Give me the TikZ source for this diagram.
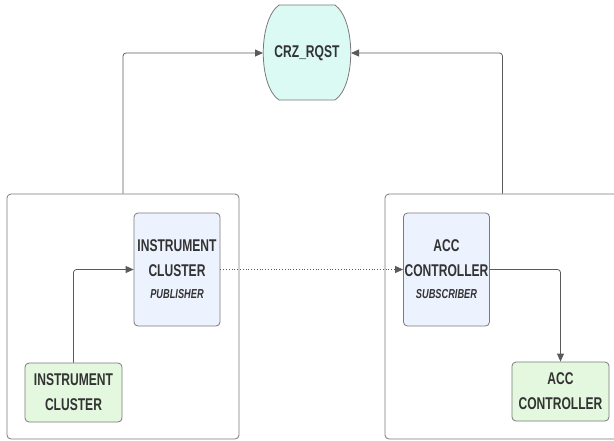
\documentclass[tikz,border=0pt]{standalone}
\usepackage{fontspec}
\setmainfont{Liberation Sans}[FakeStretch=0.71]
\usetikzlibrary{arrows.meta}
\definecolor{linec}{HTML}{5A5A5A}
\definecolor{boxline}{HTML}{7A7A7A}
\definecolor{txt}{HTML}{333333}
\definecolor{mint}{HTML}{DBFAF3}
\definecolor{paleblue}{HTML}{EDF3FE}
\definecolor{palegreen}{HTML}{E3F8DF}
\tikzset{
  container/.style={draw=boxline, line width=0.8pt, rounded corners=4pt, fill=white},
  pubbox/.style={draw=boxline, line width=0.8pt, rounded corners=4pt, fill=paleblue,
    minimum width=86pt, minimum height=113pt, align=center, text=txt, inner sep=0pt},
  srcbox/.style={draw=boxline, line width=0.8pt, rounded corners=4pt, fill=palegreen,
    minimum width=97pt, minimum height=59pt, align=center, text=txt, inner sep=0pt},
  conn/.style={draw=linec, line width=0.8pt, rounded corners=3pt,
    -{Triangle[length=8pt,width=7pt]}},
  dotconn/.style={draw=linec, line width=0.8pt, dotted,
    -{Triangle[length=8pt,width=7pt,fill=linec]}},
  lbl/.style={font=\fontsize{17}{25}\selectfont\bfseries},
}
\newcommand{\subl}[1]{{\fontsize{13}{20}\selectfont\bfseries\itshape #1}}
\begin{document}
\begin{tikzpicture}[x=1pt,y=-1pt]
\useasboundingbox (0,0) rectangle (614,440);
\clip (0,0) rectangle (614,440);
% containers
\node[container, minimum width=232pt, minimum height=245pt, inner sep=0pt] (contL) at (123,316.5) {};
\node[container, minimum width=235pt, minimum height=245pt, inner sep=0pt] (contR) at (502.5,316.5) {};
% CRZ_RQST shape
\coordinate (crzL) at (263,53);
\coordinate (crzR) at (351,53);
\draw[boxline, fill=mint, line width=0.8pt, line join=round] (279,5) -- (335,5) .. controls (356,20) and (356,86) .. (335,100) -- (279,100) .. controls (258,86) and (258,20) .. (279,5) -- cycle;
\node[lbl, text=txt] (crz) at (307,53) {CRZ\_RQST};
% inner boxes
\node[pubbox, lbl] (pub) at (177,269.5) {INSTRUMENT\\CLUSTER\\[-3pt]\subl{PUBLISHER}};
\node[pubbox, lbl] (sub) at (446.5,269.5) {ACC\\CONTROLLER\\[-3pt]\subl{SUBSCRIBER}};
\node[srcbox, lbl] (ic) at (73.5,392.5) {INSTRUMENT\\CLUSTER};
\node[srcbox, lbl] (acc) at (560.5,391.5) {ACC\\CONTROLLER};
% connectors
\draw[conn] (contL.north) |- (crzL);
\draw[conn] (contR.north) |- (crzR);
\draw[conn] (ic.north) |- (pub.west);
\draw[dotconn] (pub.east) -- (sub.west);
\draw[conn] (sub.east) -| (acc.north);
\end{tikzpicture}
\end{document}
